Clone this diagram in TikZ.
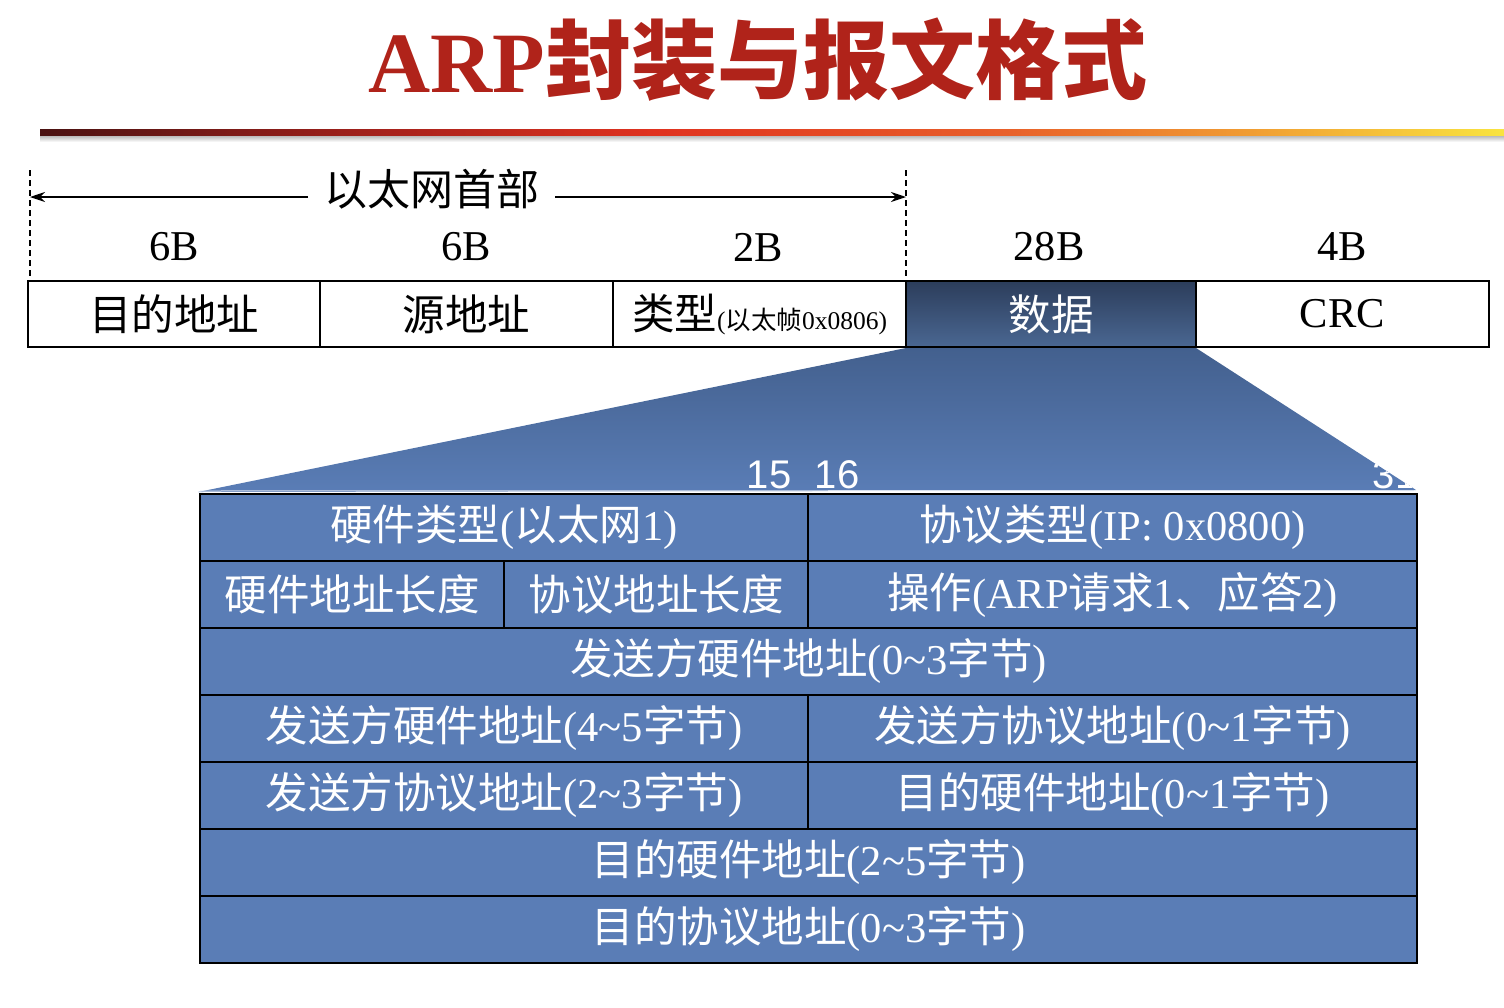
\documentclass[tikz,border=0pt]{standalone}
\usepackage{fontspec}
\setmainfont{Liberation Serif}
\newfontfamily\cjk{Noto Sans CJK SC}
\newfontfamily\bitfont{Liberation Sans}
\usetikzlibrary{arrows.meta}

\definecolor{titlered}{HTML}{B0231A}
\definecolor{tblue}{HTML}{5A7DB6}
\definecolor{fundark}{HTML}{43608E}
\definecolor{datatop}{HTML}{2C3D5B}
\definecolor{databot}{HTML}{4A6792}
\definecolor{ra}{HTML}{4A1212}
\definecolor{rb}{HTML}{A8221C}
\definecolor{rc}{HTML}{E0321F}
\definecolor{rd}{HTML}{E8602A}
\definecolor{re}{HTML}{F09A32}
\definecolor{rf}{HTML}{F9E440}

% colour run of the rule under the title
\pgfdeclarehorizontalshading{rulegrad}{100bp}{color(0bp)=(ra); color(25bp)=(ra);
  color(37bp)=(rb); color(46bp)=(rc); color(58bp)=(rd); color(66bp)=(re);
  color(75bp)=(rf); color(100bp)=(rf)}

\newcommand\zh[1]{{\cjk #1}}
\newcommand\tld{\textasciitilde}

\tikzset{
  framecell/.style={draw=black, line width=1.8pt, fill=white, inner sep=0pt,
    minimum height=66, font=\fontsize{42.5}{48}\selectfont},
  tcell/.style={draw=black, line width=2.4pt, fill=tblue, text=white, inner sep=0pt,
    minimum height=67, font=\fontsize{42.5}{48}\selectfont},
  sizelabel/.style={font=\fontsize{42.5}{48}\selectfont, inner sep=0pt},
  bitlabel/.style={font=\bitfont\fontsize{40}{46}\selectfont, text=white, inner sep=0pt, anchor=base},
  guide/.style={dashed, dash pattern=on 6pt off 4pt, line width=1.2pt},
  spanarrow/.style={line width=1.4pt, -{Stealth[length=15pt, width=10pt]}},
}

\begin{document}
\begin{tikzpicture}[x=1pt, y=-1pt]
\useasboundingbox (0,0) rectangle (1504,1007);

% title
\node[text=titlered, inner sep=0pt, font=\fontsize{86}{90}\selectfont\bfseries]
  (title) at (758,60) {ARP\zh{封装与报文格式}};

% coloured rule with soft shadow
\shade[top color=black!35, bottom color=white] (40,134) rectangle (1504,142);
\shade[shading=rulegrad] (40,129) rectangle (1504,135);

% Ethernet frame
\node[framecell, minimum width=292] (dst)  at (174,314)   {\zh{目的地址}};
\node[framecell, minimum width=293] (src)  at (466.5,314) {\zh{源地址}};
\node[framecell, minimum width=293] (type) at (759.5,314)
  {\zh{类型}{\fontsize{25.5}{30}\selectfont(\zh{以太帧}0x0806)}};
\node[framecell, minimum width=290, fill=none] (data) at (1051,314) {};
\node[framecell, minimum width=293] (crc)  at (1342.5,314) {CRC};

% dark shaded data field
\shade[top color=datatop, bottom color=databot] (906,281) rectangle (1196,347);
\draw[line width=1.8pt] (906,281) rectangle (1196,347);
\node[text=white, font=\cjk\fontsize{42.5}{48}\selectfont, inner sep=0pt] (datatext) at (1051,314) {数据};

% byte counts
\node[sizelabel] (s1) at (174,247)  {6B};
\node[sizelabel] (s2) at (466,247)  {6B};
\node[sizelabel] (s3) at (758,247)  {2B};
\node[sizelabel] (s4) at (1049,247) {28B};
\node[sizelabel] (s5) at (1342,247) {4B};

% Ethernet header span
\coordinate (gl) at (30,170);
\coordinate (gr) at (906,170);
\draw[guide] (gl) -- (30,281);
\draw[guide] (gr) -- (906,281);
\node[font=\cjk\fontsize{43}{48}\selectfont, inner sep=0pt] (hdr) at (432,189) {以太网首部};
\coordinate (al) at (30,197);
\coordinate (ar) at (906,197);
\draw[spanarrow] (308,197) -- (al);
\draw[spanarrow] (555,197) -- (ar);

% expansion of the data field
\def\funnel{(906,348) -- (1196,348) -- (1416,490) -- (198,492) -- cycle}
\shade[top color=fundark, bottom color=tblue] \funnel;
\draw[white!75!tblue, line width=1pt] (200,491) -- (1414,490.5);
\begin{scope}
  \clip \funnel;
  \node[bitlabel] (b31) at (1395,488) {31};
\end{scope}
\node[bitlabel] (b15) at (769,488) {15};
\node[bitlabel] (b16) at (837,488) {16};

% ARP packet layout
\node[tcell, minimum width=608] (r1a) at (504,527.5)    {\zh{硬件类型}(\zh{以太网}1)};
\node[tcell, minimum width=609] (r1b) at (1112.5,527.5) {\zh{协议类型}(IP: 0x0800)};
\node[tcell, minimum width=304] (r2a) at (352,594.5)    {\zh{硬件地址长度}};
\node[tcell, minimum width=304] (r2b) at (656,594.5)    {\zh{协议地址长度}};
\node[tcell, minimum width=609] (r2c) at (1112.5,594.5) {\zh{操作}(ARP\zh{请求}1\zh{、应答}2)};
\node[tcell, minimum width=1217] (r3) at (808.5,661.5)  {\zh{发送方硬件地址}(0\tld3\zh{字节})};
\node[tcell, minimum width=608] (r4a) at (504,728.5)    {\zh{发送方硬件地址}(4\tld5\zh{字节})};
\node[tcell, minimum width=609] (r4b) at (1112.5,728.5) {\zh{发送方协议地址}(0\tld1\zh{字节})};
\node[tcell, minimum width=608] (r5a) at (504,795.5)    {\zh{发送方协议地址}(2\tld3\zh{字节})};
\node[tcell, minimum width=609] (r5b) at (1112.5,795.5) {\zh{目的硬件地址}(0\tld1\zh{字节})};
\node[tcell, minimum width=1217] (r6) at (808.5,862.5)  {\zh{目的硬件地址}(2\tld5\zh{字节})};
\node[tcell, minimum width=1217] (r7) at (808.5,929.5)  {\zh{目的协议地址}(0\tld3\zh{字节})};
\end{tikzpicture}
\end{document}
